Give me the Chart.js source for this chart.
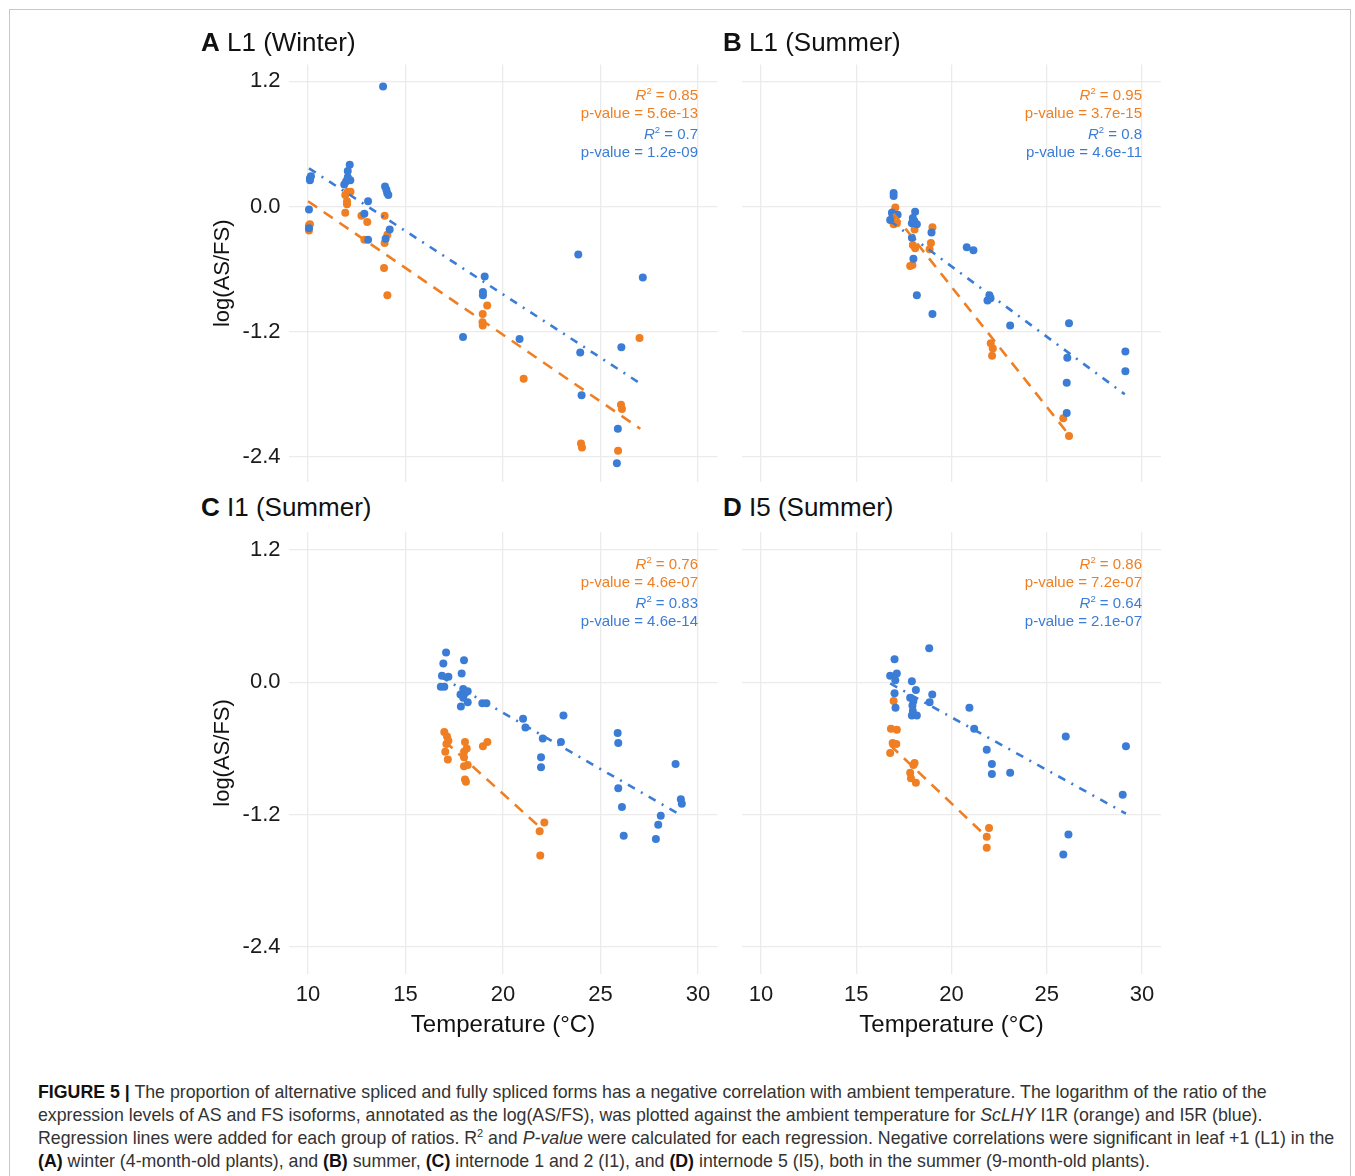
<!DOCTYPE html>
<html>
<head>
<meta charset="utf-8">
<script src="https://cdn.jsdelivr.net/npm/chart.js@4.4.1/dist/chart.umd.min.js"></script>
<style>
  body { margin: 0; background: #fff; font-family: "Liberation Sans", Arial, sans-serif; }
  #figura { position: relative; width: 1355px; height: 1176px; overflow: hidden; }
  #marco { position: absolute; left: 9px; top: 9px; width: 1342px; height: 1250px; border: 1px solid #c8c8c8; box-sizing: border-box; }
  canvas { position: absolute; }
  .titulo { position: absolute; font-size: 26px; line-height: 26px; color: #111; white-space: nowrap; }
  .stat { position: absolute; width: 300px; text-align: right; font-size: 15px; line-height: 16px; white-space: nowrap; }
  .stat sup { font-size: 9.5px; line-height: 0; vertical-align: 6px; }
  #caption { position: absolute; left: 38px; top: 1081px; font-size: 17.75px; line-height: 23px; color: #333; white-space: nowrap; }
  #caption b { color: #111; }
  #caption sup { font-size: 11px; line-height: 0; vertical-align: 7px; }
</style>
</head>
<body>
<div id="figura">
  <div id="marco"></div>
  <div id="caption"><b>FIGURE 5 |</b> The proportion of alternative spliced and fully spliced forms has a negative correlation with ambient temperature. The logarithm of the ratio of the<br>expression levels of AS and FS isoforms, annotated as the log(AS/FS), was plotted against the ambient temperature for <i>ScLHY</i> I1R (orange) and I5R (blue).<br>Regression lines were added for each group of ratios. R<sup>2</sup> and <i>P-value</i> were calculated for each regression. Negative correlations were significant in leaf +1 (L1) in the<br><b>(A)</b> winter (4-month-old plants), and <b>(B)</b> summer, <b>(C)</b> internode 1 and 2 (I1), and <b>(D)</b> internode 5 (I5), both in the summer (9-month-old plants).</div>
</div>
<script>
// Datos: [temperatura, log(AS/FS)]
const xTicks = [10, 15, 20, 25, 30];
const yTicks = [-2.4, -1.2, 0, 1.2];

// A: L1 invierno
const l1WinterBlue = [[10.05,-0.03],[10.05,-0.21],[10.1,0.25],[10.15,0.29],[10.1,0.27],
  [12.14,0.40],[12.04,0.34],[12.04,0.28],[11.95,0.24],[12.17,0.25],[11.86,0.21],
  [13.08,0.05],[12.89,-0.07],[13.08,-0.32],[13.85,1.15],[13.95,0.19],[14.02,0.16],[14.12,0.11],[14.06,0.13],
  [14.19,-0.22],[13.98,-0.31],[19.06,-0.67],[18.97,-0.82],[18.97,-0.85],[17.95,-1.25],[20.85,-1.27],
  [23.86,-0.46],[23.96,-1.40],[24.03,-1.81],[26.07,-1.35],[25.89,-2.13],[25.84,-2.46],[27.17,-0.68]];
const l1WinterOrange = [[10.05,-0.18],[10.05,-0.23],[10.1,-0.17],
  [11.91,0.11],[12.04,0.14],[12.18,0.14],[12.0,0.05],[12.0,0.02],[11.91,-0.06],
  [12.74,-0.09],[13.04,-0.15],[12.89,-0.32],[13.93,-0.09],[14.07,-0.27],[13.93,-0.35],[13.9,-0.59],[14.07,-0.85],
  [18.96,-1.03],[19.19,-0.95],[18.96,-1.14],[18.95,-1.11],[21.06,-1.65],
  [24.0,-2.27],[24.05,-2.31],[26.05,-1.90],[26.1,-1.94],[25.9,-2.34],[27.0,-1.26]];
const l1WinterBlueFit = [[10.05,0.365],[26.99,-1.69]];
const l1WinterOrangeFit = [[10.0,0.05],[27.04,-2.13]];

// B: L1 verano
const l1SummerBlue = [[16.96,0.13],[16.96,0.10],[16.78,-0.13],[16.87,-0.06],[17.17,-0.08],
  [18.09,-0.05],[17.97,-0.11],[17.92,-0.16],[18.18,-0.17],[18.05,-0.14],
  [17.92,-0.30],[18.0,-0.50],[18.18,-0.85],[19.0,-1.03],[18.95,-0.25],
  [20.8,-0.39],[21.15,-0.42],[21.99,-0.85],[21.89,-0.90],[22.05,-0.88],
  [23.08,-1.14],[26.17,-1.12],[26.08,-1.45],[26.05,-1.69],[26.05,-1.98],[29.13,-1.39],[29.13,-1.58]];
const l1SummerOrange = [[17.05,-0.01],[16.96,-0.05],[16.96,-0.17],[17.13,-0.16],[16.9,-0.10],
  [18.06,-0.22],[17.97,-0.37],[18.09,-0.40],[17.83,-0.57],[17.95,-0.56],
  [19.0,-0.20],[18.92,-0.35],[18.85,-0.41],[22.06,-1.31],[22.17,-1.36],[22.13,-1.43],
  [25.87,-2.03],[26.17,-2.20]];
const l1SummerBlueFit = [[16.78,-0.14],[29.1,-1.80]];
const l1SummerOrangeFit = [[16.96,-0.07],[26.0,-2.15]];

// C: I1 verano
const i1SummerBlue = [[17.08,0.27],[16.94,0.17],[16.87,0.06],[17.2,0.05],[16.81,-0.04],[16.99,-0.04],
  [18.0,0.20],[17.88,0.08],[17.96,-0.06],[18.19,-0.08],[17.82,-0.11],[17.96,-0.14],[18.05,-0.10],[18.19,-0.18],[17.84,-0.22],
  [18.94,-0.19],[19.15,-0.19],[21.03,-0.33],[21.15,-0.41],[23.1,-0.30],
  [22.04,-0.51],[22.97,-0.54],[21.95,-0.68],[21.95,-0.77],
  [25.88,-0.46],[25.91,-0.55],[25.91,-0.96],[26.1,-1.13],[26.19,-1.39],
  [28.09,-1.21],[27.96,-1.29],[27.84,-1.42],[28.85,-0.74],[29.12,-1.06],[29.17,-1.10]];
const i1SummerOrange = [[16.99,-0.45],[17.13,-0.49],[17.2,-0.53],[17.04,-0.63],[17.17,-0.70],[17.1,-0.56],
  [18.05,-0.54],[18.14,-0.60],[18.0,-0.63],[18.0,-0.68],[18.0,-0.76],[18.19,-0.75],[18.05,-0.88],[18.1,-0.90],
  [18.97,-0.58],[19.2,-0.54],[22.12,-1.27],[21.88,-1.35],[21.91,-1.57]];
const i1SummerBlueFit = [[16.81,0.05],[29.17,-1.21]];
const i1SummerOrangeFit = [[16.99,-0.53],[22.0,-1.33]];

// D: I5 verano
const i5SummerBlue = [[18.83,0.31],[17.01,0.21],[16.78,0.06],[17.13,0.08],[17.05,0.02],[17.01,-0.10],[17.06,-0.23],
  [17.92,0.01],[18.13,-0.07],[17.83,-0.14],[18.0,-0.17],[17.95,-0.21],[17.97,-0.26],[18.18,-0.30],[17.92,-0.30],
  [18.99,-0.11],[18.85,-0.18],[20.94,-0.23],[21.19,-0.42],[21.85,-0.61],[22.12,-0.74],[22.12,-0.83],[23.08,-0.82],
  [26.0,-0.49],[29.16,-0.58],[28.99,-1.02],[26.14,-1.38],[25.87,-1.56]];
const i5SummerOrange = [[16.96,-0.17],[16.82,-0.42],[17.13,-0.43],[16.91,-0.55],[17.1,-0.56],[16.78,-0.64],
  [18.06,-0.73],[18.0,-0.75],[17.83,-0.82],[17.87,-0.87],[18.13,-0.91],
  [21.97,-1.32],[21.85,-1.40],[21.85,-1.50]];
const i5SummerBlueFit = [[16.78,-0.01],[29.16,-1.19]];
const i5SummerOrangeFit = [[16.78,-0.57],[21.97,-1.42]];

// Estadisticos de cada panel (A, B, C, D)
const r2Orange = [0.85, 0.95, 0.76, 0.86];
const pOrange = ['5.6e-13', '3.7e-15', '4.6e-07', '7.2e-07'];
const r2Blue = [0.7, 0.8, 0.83, 0.64];
const pBlue = ['1.2e-09', '4.6e-11', '4.6e-14', '2.1e-07'];

const BLUE = '#3b7dd6';
const ORANGE = '#ef7f22';
const FONT = '"Liberation Sans", Arial, sans-serif';
Chart.defaults.font.family = FONT;

// Posiciones de cada columna/fila en la pagina
const cols = [
  { chartLeft: 288.5, chartRight: 717.5, canvasLeft: 210, statRight: 698, titleLeft: 201 },
  { chartLeft: 742, chartRight: 1161, canvasLeft: 736, statRight: 1142, titleLeft: 723 }
];
const rows = [
  { chartTop: 64.5, chartBottom: 482, canvasTop: 55, titleTop: 29, statCenters: [95, 112.5, 134, 152] },
  { chartTop: 532.3, chartBottom: 973.6, canvasTop: 522, titleTop: 494, statCenters: [564, 581.5, 603, 621] }
];

const paneles = [
  { letra: 'A', nombre: 'L1 (Winter)', blue: l1WinterBlue, orange: l1WinterOrange, blueFit: l1WinterBlueFit, orangeFit: l1WinterOrangeFit, col: 0, row: 0 },
  { letra: 'B', nombre: 'L1 (Summer)', blue: l1SummerBlue, orange: l1SummerOrange, blueFit: l1SummerBlueFit, orangeFit: l1SummerOrangeFit, col: 1, row: 0 },
  { letra: 'C', nombre: 'I1 (Summer)', blue: i1SummerBlue, orange: i1SummerOrange, blueFit: i1SummerBlueFit, orangeFit: i1SummerOrangeFit, col: 0, row: 1 },
  { letra: 'D', nombre: 'I5 (Summer)', blue: i5SummerBlue, orange: i5SummerOrange, blueFit: i5SummerBlueFit, orangeFit: i5SummerOrangeFit, col: 1, row: 1 }
];

const toPts = arr => arr.map(p => ({ x: p[0], y: p[1] }));

// Quita el margen extra que Chart.js reserva para las etiquetas
function sinRelleno(s) {
  s.paddingTop = 0;
  s.paddingBottom = 0;
  s.paddingLeft = 0;
  s.paddingRight = 0;
}

function agregarTexto(html, cls, left, top, color) {
  const div = document.createElement('div');
  div.className = cls;
  div.innerHTML = html;
  div.style.left = left + 'px';
  div.style.top = top + 'px';
  if (color) div.style.color = color;
  document.getElementById('figura').appendChild(div);
}

function crearPanel(cfg, i) {
  const col = cols[cfg.col];
  const row = rows[cfg.row];
  const isLeft = cfg.col === 0;
  const isBottom = cfg.row === 1;

  const yAxisW = col.chartLeft - col.canvasLeft;
  const xAxisH = isBottom ? 66 : 0;
  const padTop = row.chartTop - row.canvasTop;
  const w = Math.ceil(col.chartRight - col.canvasLeft + 4);
  const h = Math.ceil(row.chartBottom - row.canvasTop + xAxisH + 4);

  const canvas = document.createElement('canvas');
  canvas.width = w;
  canvas.height = h;
  canvas.style.left = col.canvasLeft + 'px';
  canvas.style.top = row.canvasTop + 'px';
  canvas.style.width = w + 'px';
  canvas.style.height = h + 'px';
  document.getElementById('figura').appendChild(canvas);

  new Chart(canvas.getContext('2d'), {
    type: 'scatter',
    data: {
      datasets: [
        { data: toPts(cfg.blueFit), showLine: true, borderColor: BLUE, borderWidth: 2.6, borderDash: [8, 7, 2, 7], pointRadius: 0, order: 0 },
        { data: toPts(cfg.orangeFit), showLine: true, borderColor: ORANGE, borderWidth: 2.6, borderDash: [11, 8], pointRadius: 0, order: 0 },
        { data: toPts(cfg.blue), backgroundColor: BLUE, borderWidth: 0, pointRadius: 4, order: 1 },
        { data: toPts(cfg.orange), backgroundColor: ORANGE, borderWidth: 0, pointRadius: 4, order: 2 }
      ]
    },
    options: {
      responsive: false,
      animation: false,
      devicePixelRatio: 1,
      layout: {
        padding: {
          left: 0,
          top: padTop,
          right: w - (col.chartRight - col.canvasLeft),
          bottom: h - (row.chartBottom - row.canvasTop) - xAxisH
        }
      },
      plugins: { legend: { display: false }, tooltip: { enabled: false } },
      scales: {
        x: {
          type: 'linear', min: 9, max: 31,
          afterBuildTicks: s => { s.ticks = xTicks.map(v => ({ value: v })); },
          afterFit: s => { s.height = xAxisH; sinRelleno(s); },
          grid: { color: '#ebebeb', lineWidth: 1.3, drawTicks: false },
          border: { display: false },
          ticks: { display: isBottom, font: { size: 22 }, color: '#1a1a1a', padding: 8, maxRotation: 0 },
          title: { display: isBottom, text: 'Temperature (°C)', font: { size: 24 }, color: '#111', padding: 0 }
        },
        y: {
          type: 'linear', min: -2.64, max: 1.36,
          afterBuildTicks: s => { s.ticks = yTicks.map(v => ({ value: v })); },
          afterFit: s => { s.width = yAxisW; sinRelleno(s); },
          grid: { color: '#ebebeb', lineWidth: 1.3, drawTicks: false },
          border: { display: false },
          ticks: { display: isLeft, font: { size: 22 }, color: '#1a1a1a', padding: 8, callback: v => v.toFixed(1) },
          title: { display: isLeft, text: 'log(AS/FS)', font: { size: 22 }, color: '#111', padding: 0 }
        }
      }
    }
  });

  // Titulo del panel
  agregarTexto('<b>' + cfg.letra + '</b> ' + cfg.nombre, 'titulo', col.titleLeft, row.titleTop);

  // R2 y p-valor arriba a la derecha
  const lineas = [
    ['<i>R</i><sup>2</sup> = ' + r2Orange[i], ORANGE],
    ['p-value = ' + pOrange[i], ORANGE],
    ['<i>R</i><sup>2</sup> = ' + r2Blue[i], BLUE],
    ['p-value = ' + pBlue[i], BLUE]
  ];
  lineas.forEach((l, k) => {
    agregarTexto(l[0], 'stat', col.statRight - 300, row.statCenters[k] - 8, l[1]);
  });
}

paneles.forEach(crearPanel);
</script>
</body>
</html>
